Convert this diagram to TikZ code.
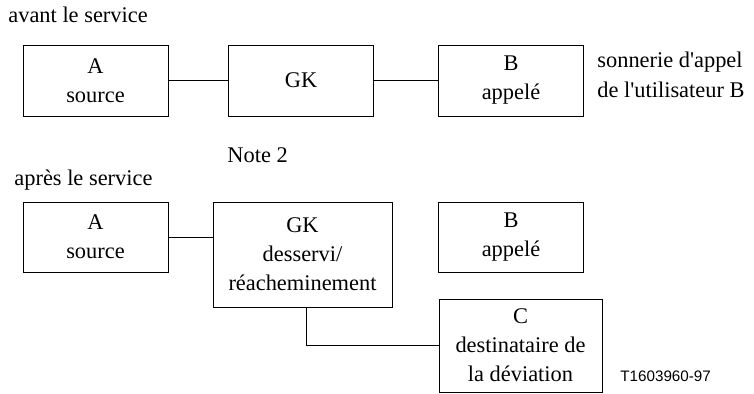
\documentclass[tikz,border=0pt]{standalone}
\usepackage{fontspec}
\setmainfont{Liberation Serif}
\setsansfont{Liberation Sans}

\begin{document}
\begin{tikzpicture}[x=0.5pt, y=-0.5pt, font=\fontsize{11.2}{14.5}\selectfont]
    \tikzset{
      entity/.style={draw=black, rectangle, align=center, inner sep=0pt, minimum width=72.5pt, minimum height=35.5pt},
      link/.style={-, thin},
      caption/.style={anchor=base west, inner sep=0pt}
    }
    \useasboundingbox (0,0) rectangle (754,394);

    % avant le service
    \draw (8,23) node (avant) [caption] {avant le service};
    \draw (95.5,80.5) node (a1) [entity] {A\\source};
    \draw (301,80.5) node (gk1) [entity] {GK};
    \draw (511,80.5) node (b1) [entity] {B\\appelé};
    \draw (597,68) node (ring1) [caption] {sonnerie d\textquotesingle appel};
    \draw (597,98) node (ring2) [caption] {de l\textquotesingle utilisateur B};
    \draw (227,163) node (note) [caption] {Note 2};

    \draw[link] (a1.east) -- (gk1.west);
    \draw[link] (gk1.east) -- (b1.west);

    % après le service
    \draw (14,186) node (apres) [caption] {après le service};
    \draw (95.5,237) node (a2) [entity, minimum height=35pt] {A\\source};
    \draw (302.5,254.5) node (gk2) [entity, minimum width=89.5pt, minimum height=52.5pt] {GK\\desservi/\\réacheminement};
    \draw (511,237) node (b2) [entity, minimum height=35pt] {B\\appelé};
    \draw (520.5,345.5) node (c2) [entity, minimum width=81.5pt, minimum height=46.5pt] {C\\destinataire de\\la déviation};
    \draw (620,382) node (ref) [caption, font=\sffamily\fontsize{7.6}{9}\selectfont] {T1603960-97};

    \draw[link] (a2.east) -- (a2.east -| gk2.west);
    \draw[link] ([xshift=2pt]gk2.south) |- (c2.west);

  \end{tikzpicture}
\end{document}
